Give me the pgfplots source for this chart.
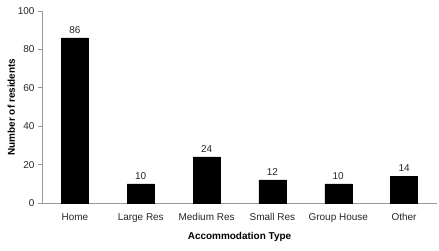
\documentclass[border=0pt]{standalone}
\usepackage{pgfplots}
\pgfplotsset{compat=1.18}
\usepackage{fontspec}
\setmainfont{Liberation Sans}
\begin{document}
\begin{tikzpicture}[x=1bp,y=1bp]
\useasboundingbox (-42bp,-48bp) rectangle (397bp,203bp);
\begin{axis}[
  at={(0,0)}, anchor=south west,
  scale only axis, width=395bp, height=192bp,
  ybar, bar width=27bp,
  xmin=-0.5, xmax=5.5, ymin=0, ymax=100,
  ytick={0,20,...,100},
  xtick={0,...,5},
  xticklabels={Home,Large Res,Medium Res,Small Res,Group House,Other},
  extra x ticks={0.5,1.5,...,5.5},
  extra x tick labels={},
  extra x tick style={major tick length=4bp, tick style={gray!80}},
  x tick style={draw=none},
  x tick label style={yshift=-3bp},
  major tick length=4bp,
  tick align=outside,
  y tick style={gray!80, line width=0.8pt},
  axis x line*=bottom, axis y line*=left,
  axis line style={gray!80, line width=0.8pt, -},
  tick label style={font=\fontsize{10}{12}\selectfont, text=black!85},
  /pgf/number format/assume math mode=true,
  xlabel={\textbf{Accommodation Type}},
  ylabel={\textbf{Number of residents}},
  label style={font=\fontsize{10}{12}\selectfont},
  xlabel style={yshift=5bp},
  ylabel style={yshift=-4bp},
  nodes near coords,
  every node near coord/.append style={font=\fontsize{10}{12}\selectfont, text=black!85, yshift=1bp},
  clip=false,
]
\addplot[fill=black, draw=black] coordinates {(0,86) (1,10) (2,24) (3,12) (4,10) (5,14)};
\end{axis}
\end{tikzpicture}
\end{document}
